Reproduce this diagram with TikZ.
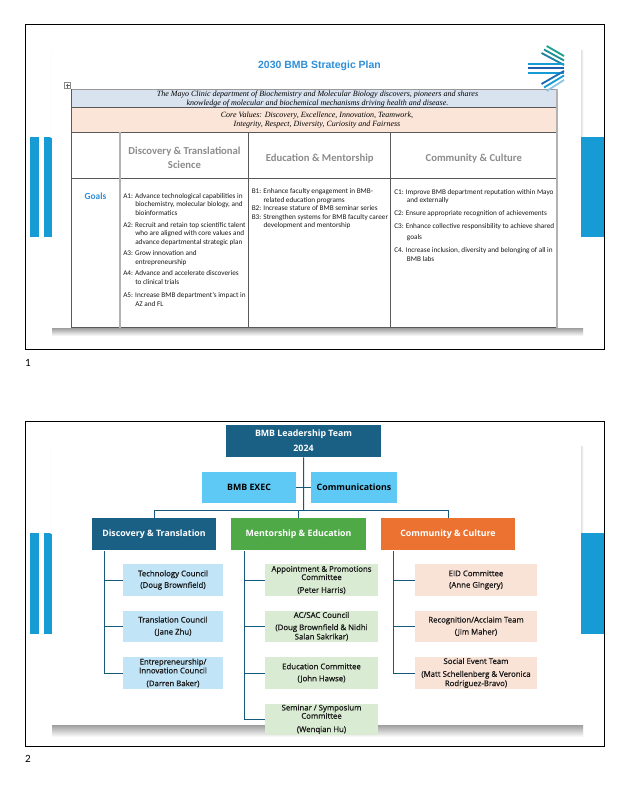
\documentclass[tikz,border=0pt]{standalone}
\usepackage{fontspec}
\setmainfont{Carlito}
\newfontfamily\serifit{Liberation Serif}
\newfontfamily\arialb{Liberation Sans}
\newfontfamily\chartf{Open Sans}
\newfontfamily\subf[FakeBold=0.8]{Open Sans}
\definecolor{slideblue}{HTML}{169BD5}
\definecolor{titleblue}{HTML}{2E8FD8}
\definecolor{teamblue}{HTML}{1A6085}
\definecolor{linkblue}{HTML}{155A7C}
\definecolor{execblue}{HTML}{5FC9F5}
\definecolor{mentgreen}{HTML}{50A947}
\definecolor{commorange}{HTML}{EC7232}
\definecolor{paleblue}{HTML}{C1E4F6}
\definecolor{palegreen}{HTML}{D9EBD2}
\definecolor{palepeach}{HTML}{F9E2D6}
\definecolor{rowblue}{HTML}{D9E3F0}
\definecolor{rowpeach}{HTML}{FBE5D8}
\definecolor{logoteal}{HTML}{1FA08E}
\definecolor{logodark}{HTML}{1C5FAF}
\definecolor{logopale}{HTML}{8CC8E4}
\tikzset{
 frame/.style={draw=black,line width=0.75pt},
 rowrule/.style={draw=black!65,line width=0.6pt},
 colrule/.style={draw=black!30,line width=1pt},
 logobar/.style={line width=1.4pt},
 headtext/.style={text=black!45,font=\fontsize{8}{10.7}\selectfont\bfseries,align=center},
 goaltext/.style={anchor=north west,inner sep=0pt,text=black!90,font=\fontsize{5.42}{6.4}\selectfont,align=left},
 missiontext/.style={text=black,inner sep=0pt,font=\serifit\itshape\fontsize{6}{7}\selectfont,align=center},
 teambox/.style={minimum height=24pt,inner sep=0pt,text=white,font=\chartf\bfseries\fontsize{6.6}{8}\selectfont,align=center},
 execbox/.style={fill=execblue,minimum height=23.2pt,inner sep=0pt,text=black,font=\chartf\bfseries\fontsize{6.6}{8}\selectfont},
 subbox/.style={minimum height=23.5pt,inner sep=0pt,text=black!90,font=\subf\fontsize{5.85}{6.6}\selectfont,align=center},
 link/.style={draw=linkblue,line width=0.75pt},
}
\begin{document}
\begin{tikzpicture}[x=0.75pt,y=-0.75pt]
\useasboundingbox (0,0) rectangle (632,786);
\fill [white] (0,0) rectangle (632,786);
% slide 1
\fill [slideblue] (30,137) rectangle (39,237);
\fill [slideblue] (44,137) rectangle (52,237);
\shade [left color=white,right color=black!5] (50.5,50) rectangle (52,137);
\shade [left color=black!12,right color=white] (581,50) rectangle (583.5,137);
\shade [top color=black!38,bottom color=white] (52,328) rectangle (583,336);
\fill [white] (52,50) rectangle (581,328);
\fill [slideblue] (581,137) rectangle (604,237);
\draw [frame] (25.3,24.7) rectangle (604.3,349);
\node [font=\arialb\bfseries\fontsize{7.85}{10}\selectfont,text=titleblue] (title) at (319.5,65.5) {2030 BMB Strategic Plan};
\fill [rowblue] (71.3,89) rectangle (557,107.7);
\fill [rowpeach] (71.3,107.7) rectangle (557,132.3);
\draw [draw=black!40,line width=0.7pt] (71.3,89) -- (557,89);
\draw [rowrule] (71.3,107.7) -- (557,107.7);
\draw [rowrule] (71.3,132.3) -- (557,132.3);
\draw [rowrule] (71.3,178.3) -- (557,178.3);
\draw [rowrule] (71.3,327.7) -- (557,327.7);
\draw [rowrule] (71.3,89) -- (71.3,327.7);
\draw [colrule] (120,132.3) -- (120,327.7);
\draw [rowrule] (248.7,132.3) -- (248.7,327.7);
\draw [rowrule] (390.3,132.3) -- (390.3,327.7);
\draw [colrule] (557,89) -- (557,327.7);
\draw [draw=black!45,line width=0.4pt,fill=white] (64.5,82.5) rectangle (70.5,88.5);
\draw [draw=black!60,line width=0.4pt] (65.5,85.5) -- (69.5,85.5);
\draw [draw=black!60,line width=0.4pt] (67.5,83.5) -- (67.5,87.5);
\node [missiontext] (mission) at (317.5,99.3) {The Mayo Clinic department of Biochemistry and Molecular Biology discovers, pioneers and shares\\knowledge of molecular and biochemical mechanisms driving health and disease.};
\node [missiontext] (values) at (317,120.3) {Core Values: Discovery, Excellence, Innovation, Teamwork,\\Integrity, Respect, Diversity, Curiosity and Fairness};
\node [headtext] (head1) at (184.5,158) {Discovery \& Translational\\Science};
\node [headtext] (head2) at (319.7,158.5) {Education \& Mentorship};
\node [headtext] (head3) at (473.8,158.5) {Community \& Culture};
\node [font=\fontsize{7}{8}\selectfont\bfseries,text=titleblue] (goals) at (95.5,196) {Goals};
\node [goaltext] (a1) at (123,193) {A1: Advance technological capabilities in\\\hspace*{9pt}biochemistry, molecular biology, and\\\hspace*{9pt}bioinformatics};
\node [goaltext] (a2) at (123,222) {A2: Recruit and retain top scientific talent\\\hspace*{9pt}who are aligned with core values and\\\hspace*{9pt}advance departmental strategic plan};
\node [goaltext] (a3) at (123,250.5) {A3: Grow innovation and\\\hspace*{9pt}entrepreneurship};
\node [goaltext] (a4) at (123,270.5) {A4: Advance and accelerate discoveries\\\hspace*{9pt}to clinical trials};
\node [goaltext] (a5) at (123,292.2) {A5: Increase BMB department's impact in\\\hspace*{9pt}AZ and FL};
\node [goaltext] (b1) at (251.5,188.2) {B1: Enhance faculty engagement in BMB-\\\hspace*{8.8pt}related education programs\\B2: Increase stature of BMB seminar series\\B3: Strengthen systems for BMB faculty career\\\hspace*{8.8pt}development and mentorship};
\node [goaltext] (c1) at (394,189) {C1: Improve BMB department reputation within Mayo\\\hspace*{9.5pt}and externally};
\node [goaltext] (c2) at (394,210.5) {C2: Ensure appropriate recognition of achievements};
\node [goaltext] (c3) at (394,223.3) {C3: Enhance collective responsibility to achieve shared\\[1.5pt]\hspace*{9.5pt}goals};
\node [goaltext] (c4) at (394,247.5) {C4. Increase inclusion, diversity and belonging of all in\\\hspace*{9.5pt}BMB labs};
\draw [logobar,logoteal] (546.7,46) -- (564,56);
\draw [logobar,logoteal!80!logodark] (544,49.5) -- (564,60.5);
\draw [logobar,logoteal!55!logodark] (541.5,53) -- (564,65);
\draw [logobar,slideblue] (528,64) -- (564,64);
\draw [logobar,logodark] (528,68.4) -- (564,68.4);
\draw [logobar,slideblue] (528,73) -- (564,73);
\draw [logobar,logodark!80!slideblue] (564,71) -- (541.5,84);
\draw [logobar,slideblue] (564,75.5) -- (544,87.5);
\draw [logobar,logopale] (564,80) -- (546.7,91);
\node [font=\fontsize{8.3}{10}\selectfont] (num1) at (28,363) {1};
% slide 2
\fill [slideblue] (30,533) rectangle (39,633.7);
\fill [slideblue] (44,533) rectangle (52,633.7);
\shade [left color=white,right color=black!5] (50.5,446) rectangle (52,533);
\shade [left color=black!12,right color=white] (581,446) rectangle (583.5,533);
\shade [top color=black!38,bottom color=white] (52,725) rectangle (583,737);
\fill [white] (52,446) rectangle (581,725);
\fill [slideblue] (581,533) rectangle (604,633.7);
\draw [frame] (25.3,421) rectangle (604.3,746);
\node [teambox,fill=teamblue,minimum width=116.25pt] (lead) at (303.5,441) {BMB Leadership Team\\[3pt]2024};
\node [execbox,minimum width=70.5pt] (exec) at (249,487.5) {BMB EXEC};
\node [execbox,minimum width=64.5pt] (comms) at (354,487.5) {Communications};
\node [teambox,fill=teamblue,minimum width=93pt] (disc) at (154,534) {Discovery \& Translation};
\node [teambox,fill=mentgreen,minimum width=101.25pt] (ment) at (298.5,534) {Mentorship \& Education};
\node [teambox,fill=commorange,minimum width=100.5pt] (comm) at (448,534) {Community \& Culture};
\node [subbox,fill=paleblue,minimum width=75pt] (tech) at (173,580) {Technology Council\\[2pt](Doug Brownfield)};
\node [subbox,fill=paleblue,minimum width=75pt] (trans) at (173,626.3) {Translation Council\\[2.4pt](Jane Zhu)};
\node [subbox,fill=paleblue,minimum width=75pt] (entre) at (173,673) {Entrepreneurship/\\Innovation Council\\[3pt](Darren Baker)};
\node [subbox,fill=palegreen,minimum width=84.75pt] (appt) at (321.5,580) {Appointment \& Promotions\\[-0.4pt]Committee\\[3pt](Peter Harris)};
\node [subbox,fill=palegreen,minimum width=84.75pt] (acsac) at (321.5,626.3) {AC/SAC Council\\[2.6pt](Doug Brownfield \& Nidhi\\[0.4pt]Salan Sakrikar)};
\node [subbox,fill=palegreen,minimum width=84.75pt] (educ) at (321.5,673) {Education Committee\\[2.4pt](John Hawse)};
\node [subbox,fill=palegreen,minimum width=84.75pt] (semi) at (321.5,719.3) {Seminar / Symposium\\[-0.4pt]Committee\\[3.4pt](Wenqian Hu)};
\node [subbox,fill=palepeach,minimum width=91.5pt] (eid) at (476,580) {EID Committee\\[2pt](Anne Gingery)};
\node [subbox,fill=palepeach,minimum width=91.5pt] (recog) at (476,626.3) {Recognition/Acclaim Team\\[2.4pt](Jim Maher)};
\node [subbox,fill=palepeach,minimum width=91.5pt] (social) at (476,673) {Social Event Team\\[3pt](Matt Schellenberg \& Veronica\\[0.4pt]Rodriguez-Bravo)};
\coordinate (bus) at (303.7,510.3);
\coordinate (trunk1) at (104.7,551);
\coordinate (trunk2) at (244.7,551);
\coordinate (trunk3) at (393.3,551);
\draw [link] (lead) -- (bus);
\draw [link] (exec) -- (comms);
\draw [link] (bus) -| (disc);
\draw [link] (bus) -| (ment);
\draw [link] (bus) -| (comm);
\draw [link] (trunk1) |- (tech);
\draw [link] (trunk1) |- (trans);
\draw [link] (trunk1) |- (entre);
\draw [link] (trunk2) |- (appt);
\draw [link] (trunk2) |- (acsac);
\draw [link] (trunk2) |- (educ);
\draw [link] (trunk2) |- (semi);
\draw [link] (trunk3) |- (eid);
\draw [link] (trunk3) |- (recog);
\draw [link] (trunk3) |- (social);
\node [font=\fontsize{8.3}{10}\selectfont] (num2) at (28,759) {2};
\end{tikzpicture}
\end{document}
